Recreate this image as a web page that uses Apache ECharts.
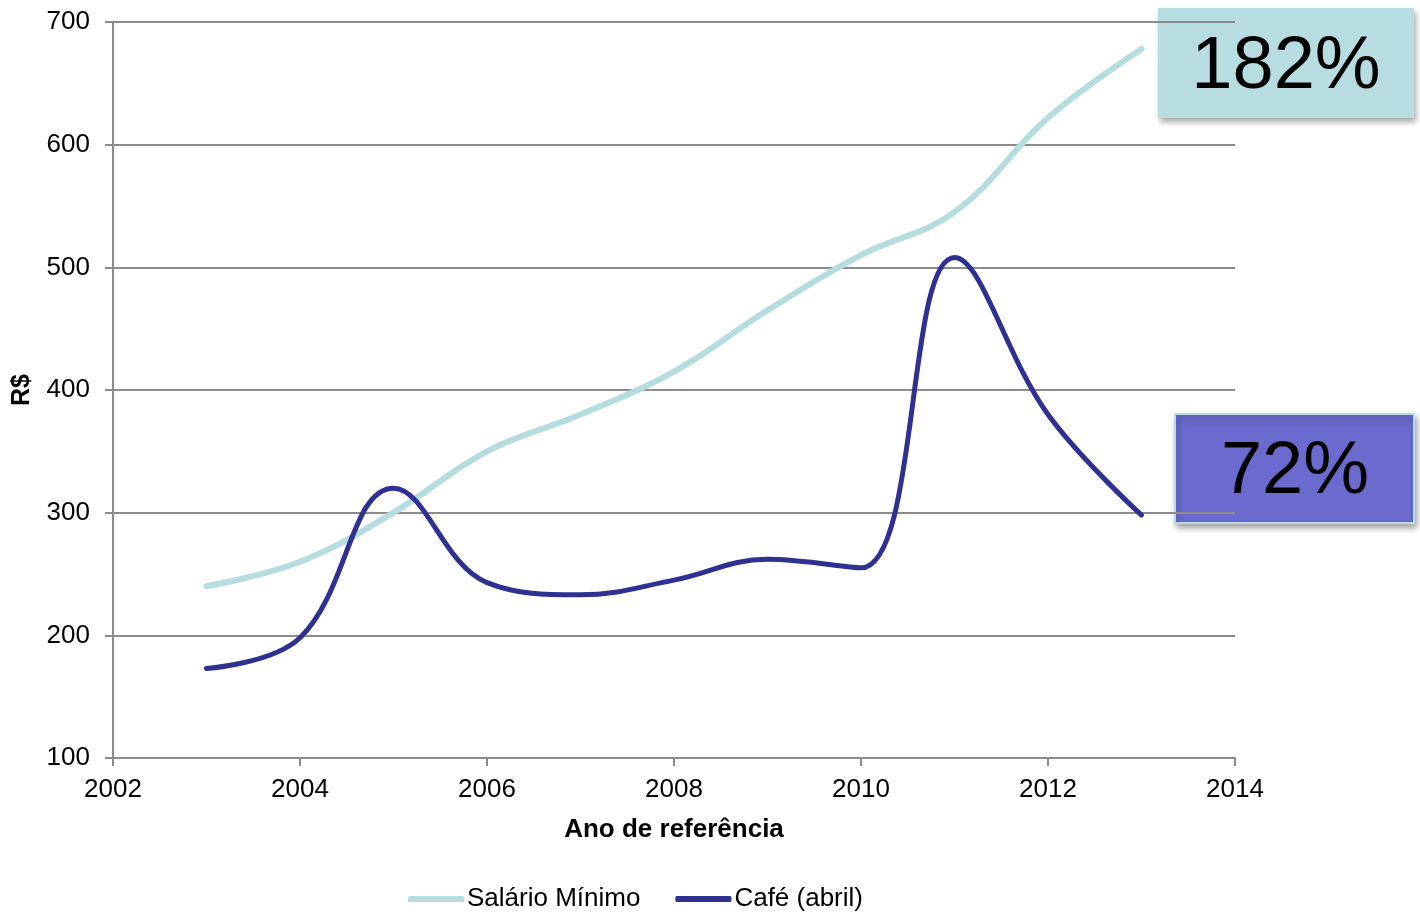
<!DOCTYPE html>
<html>
<head>
<meta charset="utf-8">
<script src="https://cdn.jsdelivr.net/npm/echarts@6/dist/echarts.min.js"></script>
<style>
  html, body { margin: 0; padding: 0; background: #fff; }
  #chart { width: 1420px; height: 916px; }
</style>
</head>
<body>
<div id="chart"></div>
<script>
// Reference years
const years = [2003, 2004, 2005, 2006, 2007, 2008, 2009, 2010, 2011, 2012, 2013];
// Minimum wage (R$)
const salario = [240, 260, 300, 350, 380, 415, 465, 510, 545, 622, 678];
// Coffee price in April (R$)
const cafe = [173, 198, 320, 243, 233, 245, 262, 255, 508, 380, 298];
// Axis ticks
const xTicks = [2002, 2004, 2006, 2008, 2010, 2012, 2014];
const yTicks = [100, 200, 300, 400, 500, 600, 700];

const font = '"Liberation Sans", Arial, sans-serif';
const growth = arr => Math.floor((arr[arr.length - 1] / arr[0] - 1) * 100) + '%';

const chart = echarts.init(document.getElementById('chart'), null, { renderer: 'canvas' });
const axisGray = { color: '#8c8c8c', width: 2 };

chart.setOption({
  animation: false,
  grid: { left: 113, right: 185, top: 22, bottom: 158, containLabel: false },
  xAxis: {
    type: 'value',
    min: xTicks[0], max: xTicks[xTicks.length - 1], interval: 2,
    name: 'Ano de referência', nameLocation: 'middle', nameGap: 59,
    nameTextStyle: { fontFamily: font, fontSize: 26, fontWeight: 'bold', color: '#000' },
    axisLine: { show: true, lineStyle: axisGray },
    axisTick: { show: true, length: 8, lineStyle: axisGray },
    axisLabel: { fontFamily: font, fontSize: 26, color: '#000', margin: 19, formatter: v => String(v) },
    splitLine: { show: false }
  },
  yAxis: {
    type: 'value',
    min: yTicks[0], max: yTicks[yTicks.length - 1], interval: 100,
    name: 'R$', nameLocation: 'middle', nameGap: 78, nameRotate: 90,
    nameTextStyle: { fontFamily: font, fontSize: 25, fontWeight: 'bold', color: '#000' },
    axisLine: { show: true, lineStyle: axisGray },
    axisTick: { show: true, length: 8, lineStyle: axisGray },
    axisLabel: { fontFamily: font, fontSize: 26, color: '#000', margin: 23 },
    splitLine: { lineStyle: axisGray }
  },
  legend: {
    top: 881, left: 403,
    itemWidth: 56, itemHeight: 6, itemGap: 35,
    icon: 'roundRect',
    textStyle: { fontFamily: font, fontSize: 26, color: '#000', padding: [0, 0, 0, -2] },
    data: ['Salário Mínimo', 'Café (abril)']
  },
  series: [
    {
      name: 'Salário Mínimo', type: 'line', smooth: 0.4,
      data: years.map((y, i) => [y, salario[i]]),
      showSymbol: false, symbol: 'none',
      lineStyle: { color: '#b5dde0', width: 6, cap: 'round' },
      itemStyle: { color: '#b5dde0' }
    },
    {
      name: 'Café (abril)', type: 'line', smooth: 0.4,
      data: years.map((y, i) => [y, cafe[i]]),
      showSymbol: false, symbol: 'none',
      lineStyle: { color: '#2e3192', width: 5, cap: 'round' },
      itemStyle: { color: '#2e3192' }
    }
  ],
  graphic: [
    {
      type: 'group', left: 1158, top: 8,
      children: [
        {
          type: 'rect', shape: { x: 0, y: 0, width: 256, height: 110 },
          style: { fill: '#b7dde1', shadowBlur: 6, shadowOffsetX: 2, shadowOffsetY: 4, shadowColor: 'rgba(0,0,0,0.35)' }
        },
        {
          type: 'text', x: 128, y: 60,
          style: { text: growth(salario), fontFamily: font, fontSize: 74, fill: '#000', align: 'center', verticalAlign: 'middle' }
        }
      ]
    },
    {
      type: 'group', left: 1174, top: 413,
      children: [
        {
          type: 'rect', shape: { x: 0, y: 0, width: 239, height: 109 },
          style: { fill: '#6a6acf', stroke: '#b7dde1', lineWidth: 2, shadowBlur: 6, shadowOffsetX: 2, shadowOffsetY: 4, shadowColor: 'rgba(0,0,0,0.35)' }
        },
        {
          type: 'text', x: 120, y: 59,
          style: { text: growth(cafe), fontFamily: font, fontSize: 74, fill: '#000', align: 'center', verticalAlign: 'middle' }
        }
      ]
    }
  ]
});
</script>
</body>
</html>
